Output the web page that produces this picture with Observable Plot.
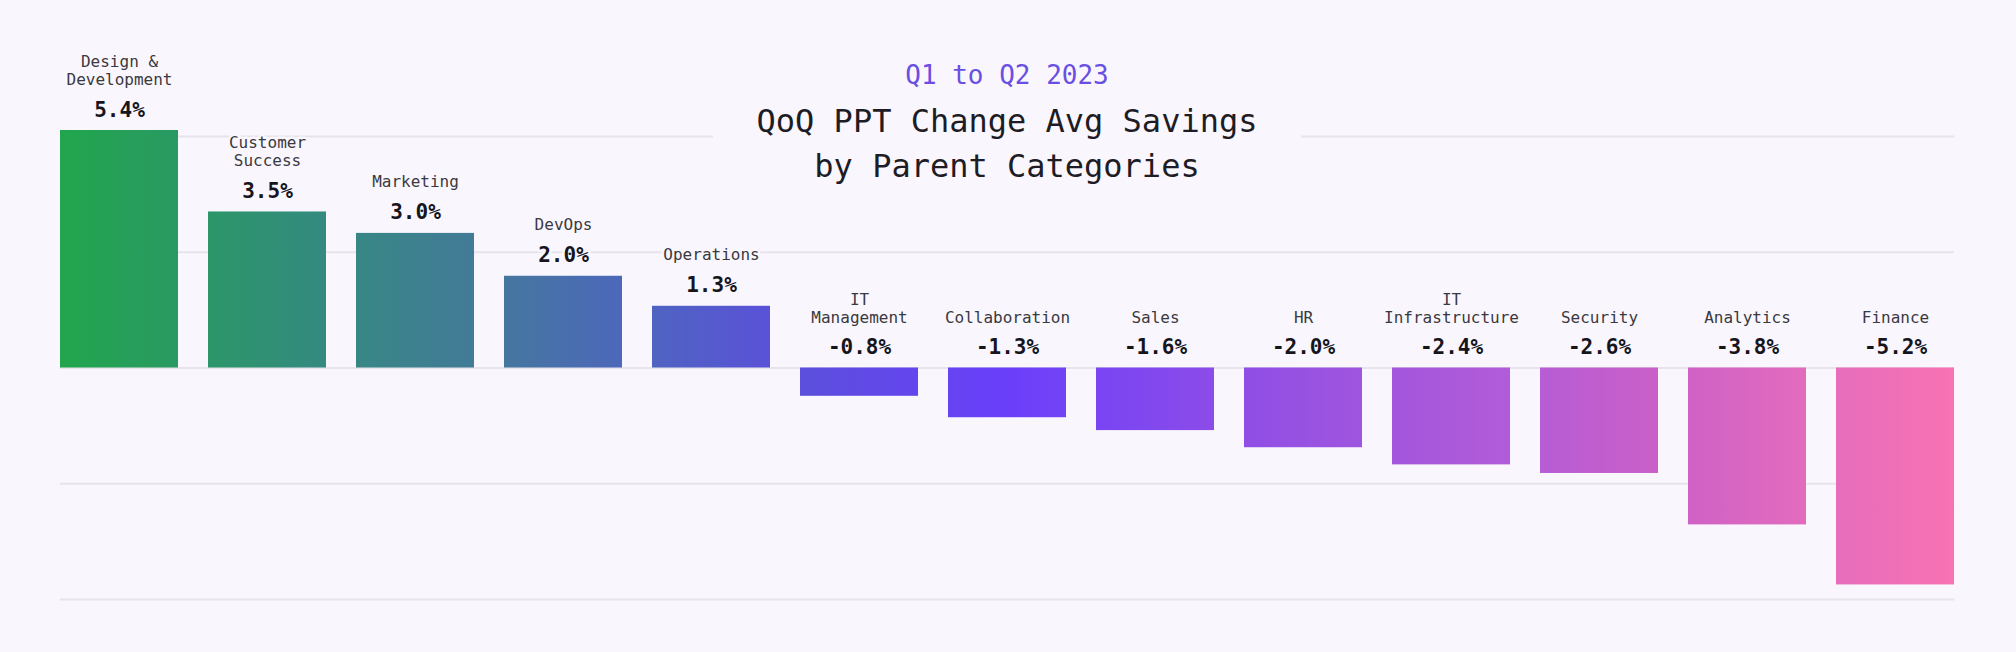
<!DOCTYPE html>
<html>
<head>
<meta charset="utf-8">
<script src="https://cdn.jsdelivr.net/npm/d3@7"></script>
<script src="https://cdn.jsdelivr.net/npm/@observablehq/plot@0.6"></script>
<style>
  html, body { margin: 0; padding: 0; background: #f9f7fd; }
  #wrap { position: relative; width: 2016px; height: 652px; overflow: hidden; }
  #chart svg { display: block; }
  #titlebox {
    position: absolute; left: 713px; width: 588px; top: 60px;
    background: #f9f7fd; text-align: center;
    font-family: "DejaVu Sans Mono", monospace;
  }
  #subtitle { font-size: 26px; line-height: 30px; color: #6a4fe2; }
  #title { margin-top: 9px; font-size: 32px; line-height: 45px; color: #1e1c24; }
</style>
</head>
<body>
<div id="wrap">
  <div id="chart"></div>
  <div id="titlebox">
    <div id="subtitle">Q1 to Q2 2023</div>
    <div id="title">QoQ PPT Change Avg Savings<br>by Parent Categories</div>
  </div>
</div>
<script>
const categories = [
  "Design &\nDevelopment", "Customer\nSuccess", "Marketing", "DevOps", "Operations",
  "IT\nManagement", "Collaboration", "Sales", "HR", "IT\nInfrastructure",
  "Security", "Analytics", "Finance"
];
const values = [5.4, 3.5, 3.0, 2.0, 1.3, -0.8, -1.3, -1.6, -2.0, -2.4, -2.6, -3.8, -5.2];
const gridTicks = [-5.4, -2.7, 0, 2.7, 5.4];
const gradientStops = [
  [0.00, "#21a64c"], [0.14, "#348a80"], [0.22, "#437a98"], [0.30, "#4d67bc"],
  [0.375, "#5a52d8"], [0.50, "#6a3ffb"], [0.61, "#8c4ce8"], [0.69, "#a055dd"],
  [0.77, "#b35cd8"], [0.84, "#c95fc8"], [0.92, "#e26bbd"], [1.00, "#f872b4"]
];

const bg = "#f9f7fd";
const data = categories.map((c, i) => ({category: c, value: values[i]}));
const pos = data.filter(d => d.value >= 0);
const neg = data.filter(d => d.value < 0);
const fmt = d => d.value.toFixed(1) + "%";

const catStyle = {fontSize: 16, lineHeight: 1.125, fill: "#3b3940", lineAnchor: "bottom",
  stroke: bg, strokeWidth: 5, paintOrder: "stroke", fontFamily: "DejaVu Sans Mono"};
const valStyle = {fontSize: 21, fontWeight: 600, fill: "#17151c", lineAnchor: "bottom",
  stroke: bg, strokeWidth: 5, paintOrder: "stroke", fontFamily: "DejaVu Sans Mono"};

const svg = Plot.plot({
  width: 2016,
  height: 652,
  marginTop: 136,
  marginBottom: 53,
  marginLeft: 60,
  marginRight: 62,
  x: {domain: categories, paddingInner: 30 / 148, paddingOuter: 0, axis: null},
  y: {domain: [-5.4, 5.4], axis: null},
  style: {background: "transparent", fontFamily: "DejaVu Sans Mono"},
  marks: [
    Plot.ruleY(gridTicks, {stroke: "#e6e3eb", strokeWidth: 2}),
    Plot.barY(pos, {x: "category", y: "value", fill: "url(#barGrad)", insetTop: -6}),
    Plot.barY(neg, {x: "category", y: "value", fill: "url(#barGrad)", insetBottom: 6}),
    Plot.text(pos, {x: "category", y: "value", text: "category", dy: -52, ...catStyle}),
    Plot.text(neg, {x: "category", y: () => 0, text: "category", dy: -45, ...catStyle}),
    Plot.text(pos, {x: "category", y: "value", text: fmt, dy: -20, ...valStyle}),
    Plot.text(neg, {x: "category", y: () => 0, text: fmt, dy: -14, ...valStyle})
  ]
});

// horizontal gradient spanning the x range of the plot
const ns = "http://www.w3.org/2000/svg";
const xr = svg.scale("x").range;
const defs = document.createElementNS(ns, "defs");
const grad = document.createElementNS(ns, "linearGradient");
grad.setAttribute("id", "barGrad");
grad.setAttribute("gradientUnits", "userSpaceOnUse");
grad.setAttribute("x1", xr[0]);
grad.setAttribute("x2", xr[1]);
grad.setAttribute("y1", 0);
grad.setAttribute("y2", 0);
for (const [o, c] of gradientStops) {
  const s = document.createElementNS(ns, "stop");
  s.setAttribute("offset", o);
  s.setAttribute("stop-color", c);
  grad.appendChild(s);
}
defs.appendChild(grad);
svg.insertBefore(defs, svg.firstChild);

document.getElementById("chart").appendChild(svg);
</script>
</body>
</html>
